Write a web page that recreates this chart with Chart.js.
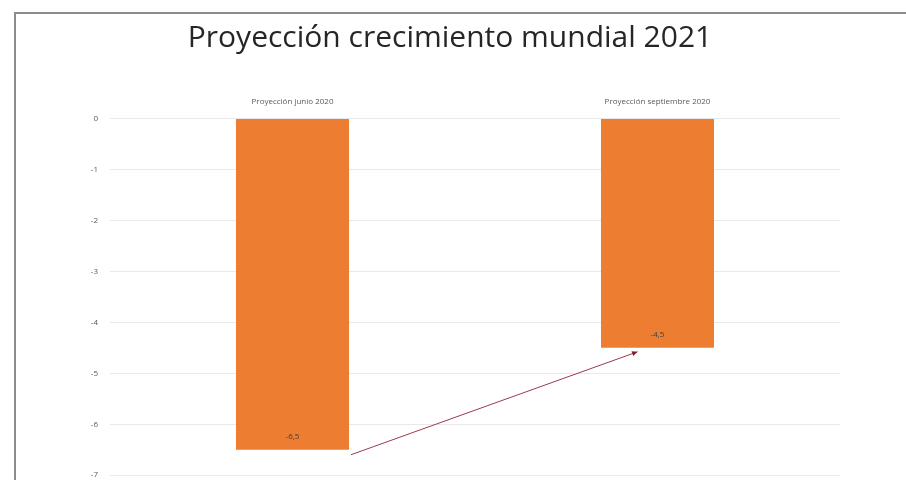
<!DOCTYPE html>
<html>
<head>
<meta charset="utf-8">
<script src="https://cdn.jsdelivr.net/npm/chart.js@4.4.0/dist/chart.umd.min.js"></script>
<style>
  html, body { margin: 0; padding: 0; background: #fff; }
  #wrap { position: relative; width: 906px; height: 480px; overflow: hidden; }
  #frame { position: absolute; left: 14px; top: 12px; width: 1000px; height: 1000px;
           border-left: 2px solid #8c8c8c; border-top: 2px solid #8c8c8c; }
  canvas { position: absolute; left: 0; top: 0; }
</style>
</head>
<body>
<div id="wrap">
  <div id="frame"></div>
  <!-- canvas a bit taller than the window: the picture is cut at the -7 line -->
  <canvas id="chart" width="906" height="492"></canvas>
</div>
<script>
// data
const chartTitle = 'Proyección crecimiento mundial 2021';
const categories = ['Proyección junio 2020', 'Proyección septiembre 2020'];
const growth = [-6.5, -4.5];
const yMin = -7;
const yMax = 0;

// value labels near the end of each bar (like Excel "inside end")
const barLabels = {
    id: 'barLabels',
    afterDatasetsDraw(chart) {
        const ctx = chart.ctx;
        const meta = chart.getDatasetMeta(0);
        ctx.save();
        ctx.font = '8px "Open Sans", sans-serif';
        ctx.fillStyle = '#404040';
        ctx.textAlign = 'center';
        ctx.textBaseline = 'middle';
        meta.data.forEach((bar, i) => {
            const txt = growth[i].toFixed(1).replace('.', ',');
            ctx.fillText(txt, bar.x, bar.y - 13);
        });
        ctx.restore();
    }
};

// red arrow from first bar end to second bar end
const arrowPlugin = {
    id: 'arrow',
    afterDraw(chart) {
        const ctx = chart.ctx;
        const meta = chart.getDatasetMeta(0);
        const a = meta.data[0], b = meta.data[1];
        const x1 = a.x + a.width / 2 + 2;
        const y1 = a.y + 5;
        const x2 = b.x - 20;
        const y2 = b.y + 4;
        ctx.save();
        ctx.strokeStyle = '#9a3b4b';
        ctx.fillStyle = '#7a2032';
        ctx.lineWidth = 1;
        ctx.beginPath();
        ctx.moveTo(x1, y1);
        ctx.lineTo(x2, y2);
        ctx.stroke();
        const ang = Math.atan2(y2 - y1, x2 - x1);
        const len = 6;
        ctx.beginPath();
        ctx.moveTo(x2, y2);
        ctx.lineTo(x2 - len * Math.cos(ang - 0.45), y2 - len * Math.sin(ang - 0.45));
        ctx.lineTo(x2 - len * Math.cos(ang + 0.45), y2 - len * Math.sin(ang + 0.45));
        ctx.closePath();
        ctx.fill();
        ctx.restore();
    }
};

const ctx = document.getElementById('chart').getContext('2d');
new Chart(ctx, {
    type: 'bar',
    data: {
        labels: categories,
        datasets: [{
            data: growth,
            backgroundColor: '#ED7D31',
            borderWidth: 0,
            categoryPercentage: 0.8,
            barPercentage: 0.387
        }]
    },
    options: {
        responsive: false,
        animation: false,
        layout: { padding: { left: 60, right: 66, top: 0, bottom: 5 } },
        scales: {
            x: {
                position: 'top',
                grid: { display: false, drawTicks: false },
                border: { display: false },
                ticks: {
                    padding: 12,
                    color: '#595959',
                    font: { family: '"Open Sans", sans-serif', size: 8 }
                },
                afterFit: (scale) => { scale.height = 30; }
            },
            y: {
                min: yMin,
                max: yMax,
                grid: { color: '#e9e9e9', drawTicks: false },
                border: { display: false },
                ticks: {
                    stepSize: 1,
                    padding: 12,
                    color: '#595959',
                    font: { family: '"Open Sans", sans-serif', size: 8 }
                },
                afterFit: (scale) => { scale.width = 50; }
            }
        },
        plugins: {
            legend: { display: false },
            tooltip: { enabled: false },
            title: {
                display: true,
                text: chartTitle,
                color: '#262626',
                font: { family: '"Open Sans", sans-serif', size: 30, weight: 'normal' },
                padding: { top: 20, bottom: 32.5 }
            }
        }
    },
    plugins: [barLabels, arrowPlugin]
});
</script>
</body>
</html>
